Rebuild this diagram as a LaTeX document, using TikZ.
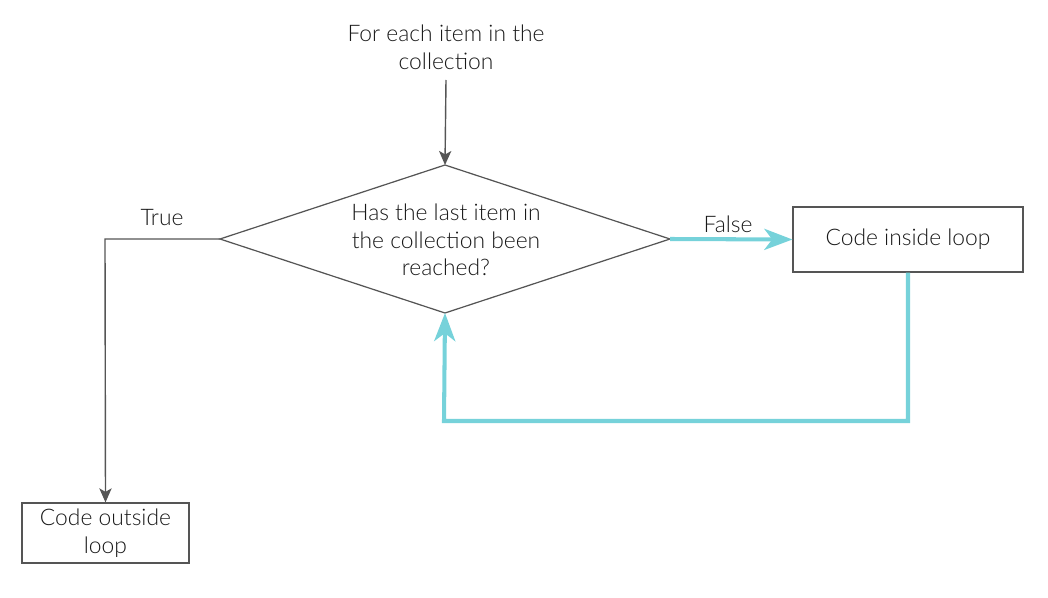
\documentclass[tikz,border=0pt]{standalone}
\usepackage{fontspec}
\setmainfont{Lato}[UprightFont={* Light}]
\usetikzlibrary{arrows.meta}
\definecolor{loopcyan}{RGB}{118,210,218}
\definecolor{linegray}{RGB}{85,85,85}
\begin{document}
\begin{tikzpicture}
        [x=0.02cm, y=-0.02cm, every node/.style={font=\fontsize{13}{15.7}\selectfont, align=center, text=black!90},
         box/.style={draw=linegray, line width=0.7pt, minimum width=4.6cm, minimum height=1.3cm},
         flow/.style={draw=linegray, line width=0.8pt, -{Stealth[length=8pt, width=7pt, inset=2pt]}},
         back/.style={draw=loopcyan, line width=2.3pt, -{Stealth[length=16pt, width=12pt, inset=4.5pt]}}]

        \useasboundingbox (0, 0) rectangle (1048, 598);

        \node (start) at (446, 47) {For each item in the\\collection};
        \node[box] (inside) at (908, 239.5) {Code inside loop};
        \node[box, minimum width=3.34cm, minimum height=1.2cm] (outside) at (105.5, 533) {Code outside\\loop};

        \coordinate (top) at (445, 165);
        \coordinate (left) at (220, 239);
        \coordinate (right) at (670, 239);
        \coordinate (bottom) at (445, 313);
        \draw[linegray, line width=0.7pt] (top) -- (right) -- (bottom) -- (left) -- cycle;
        \node (ask) at (446, 240) {Has the last item in\\the collection been\\reached?};

        \coordinate (enter) at (446, 80);
        \coordinate (tcorner) at (105, 239);
        \coordinate (bcorner) at (444, 421);
        \coordinate (rcorner) at (908, 421);

        \draw[flow] (enter) -- (top);
        \draw[flow] (left) -- (tcorner) -- (outside.north);
        \draw[back] (right) -- (inside.west);
        \draw[back] (inside.south) -- (rcorner) -- (bcorner) -- (bottom);

        \node (true) at (162, 218) {True};
        \node (false) at (728, 224) {False};

      \end{tikzpicture}
\end{document}
